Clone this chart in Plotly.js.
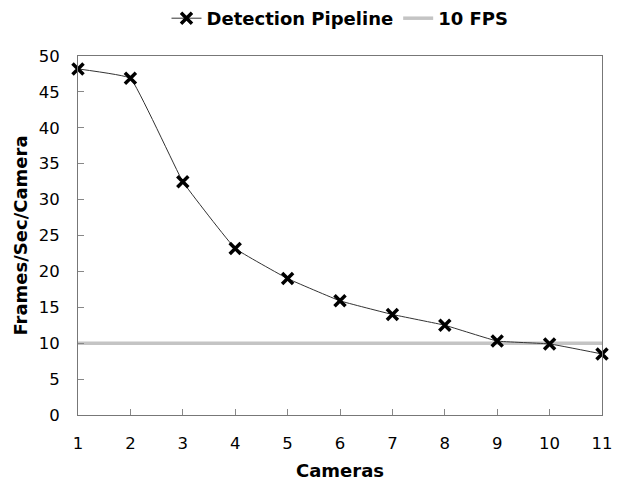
<!DOCTYPE html>
<html><head><meta charset="utf-8">
<script src="https://cdn.plot.ly/plotly-3.0.1.min.js"></script>
<style>body{margin:0;background:#fff}#c{width:625px;height:486px}</style>
</head><body><div id="c"></div>
<script>
const cameras = [1,2,3,4,5,6,7,8,9,10,11];
const fps = [48.2,46.9,32.5,23.2,19.0,15.9,14.0,12.5,10.3,9.9,8.5];
const targetX = [1,11];
const targetY = [10,10];
const xTicks = [1,2,3,4,5,6,7,8,9,10,11];
const yTicks = [0,5,10,15,20,25,30,35,40,45,50];

const F = "DejaVu Sans, Verdana, sans-serif";
const traces = [
  {x: targetX, y: targetY, name: "10 FPS", mode: "lines", type: "scatter", legendrank: 2,
   line: {color: "#c4c4c4", width: 3.5}},
  {x: cameras, y: fps, name: "Detection Pipeline", mode: "lines+markers", type: "scatter", legendrank: 1,
   cliponaxis: false,
   line: {color: "#333", width: 1, shape: "spline", smoothing: 0.25},
   marker: {symbol: "x-thin", size: 11, color: "#000", line: {width: 3.5, color: "#000"}}}
];
const layout = {
  width: 625, height: 486,
  margin: {l: 78, r: 23, t: 56, b: 71},
  paper_bgcolor: "#fff", plot_bgcolor: "#fff",
  font: {family: F, size: 16, color: "#000"},
  showlegend: true,
  legend: {orientation: "h", x: 0.5, xanchor: "center", y: 1.0, yref: "container", yanchor: "top",
           font: {family: F, size: 18, weight: "bold"}, traceorder: "normal"},
  xaxis: {range: [1, 11], tickvals: xTicks, ticktext: xTicks.map(String), ticks: "inside", ticklen: 6,
          tickcolor: "#888", showline: true, linecolor: "#777", linewidth: 1, mirror: true,
          showgrid: false, zeroline: false, tickfont: {size: 16.5}, ticklabelstandoff: 13,
          title: {text: "Cameras", font: {size: 18, weight: "bold"}, standoff: 12}},
  yaxis: {range: [0, 50], tickvals: yTicks, ticks: "inside", ticklen: 6, tickcolor: "#888",
          showline: true, linecolor: "#777", linewidth: 1, mirror: true,
          showgrid: false, zeroline: false, tickfont: {size: 16.5}, ticklabelstandoff: 14,
          title: {text: "Frames/Sec/Camera", font: {size: 18, weight: "bold"}, standoff: 6}}
};
Plotly.newPlot("c", traces, layout, {displayModeBar: false, staticPlot: true});
</script></body></html>
